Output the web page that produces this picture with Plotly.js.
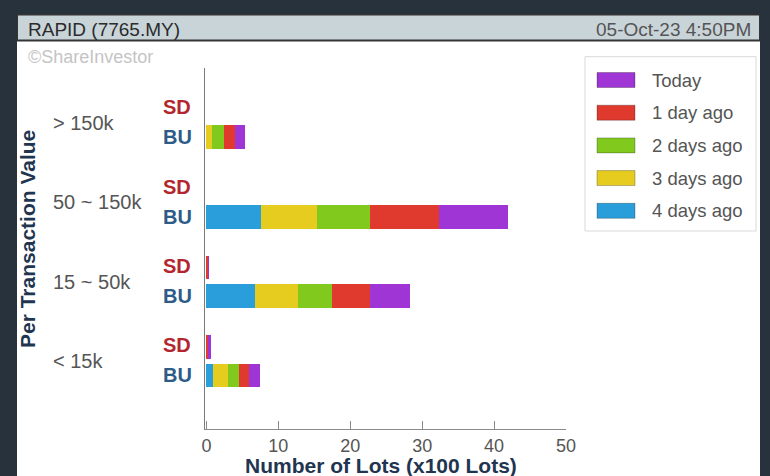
<!DOCTYPE html>
<html>
<head>
<meta charset="utf-8">
<script src="https://cdn.plot.ly/plotly-3.0.1.min.js"></script>
<style>
  html, body { margin: 0; padding: 0; background: #28323d; width: 770px; height: 476px; overflow: hidden; }
  #chart { position: absolute; left: 17px; top: 14px; width: 743px; height: 462px; }
</style>
</head>
<body>
<div id="chart"></div>
<script>
// ---- data ----
const categories = ['> 150k', '50 ~ 150k', '15 ~ 50k', '< 15k'];   // top to bottom
const sides = ['SD', 'BU'];
const seriesNames = ['4 days ago', '3 days ago', '2 days ago', '1 day ago', 'Today']; // stacking order
const seriesColors = ['#2a9edb', '#e5cc1f', '#82c91e', '#e03a2f', '#a035d6'];

// BU values (x100 lots) per category
const buDay4  = [0.0, 7.65, 6.7, 0.93];
const buDay3  = [0.8, 7.75, 6.05, 2.03];
const buDay2  = [1.7, 7.3, 4.65, 1.53];
const buDay1  = [1.5, 9.6, 5.4, 1.39];
const buToday = [1.3, 9.7, 5.5, 1.53];

// SD values (x100 lots) per category
const sdDay4  = [0, 0, 0, 0];
const sdDay3  = [0, 0, 0, 0];
const sdDay2  = [0, 0, 0, 0];
const sdDay1  = [0, 0, 0.15, 0.25];
const sdToday = [0, 0, 0.15, 0.35];

const xTicks = [0, 10, 20, 30, 40, 50];
const headerLeft = 'RAPID (7765.MY)';
const headerRight = '05-Oct-23 4:50PM';
const watermark = '\u00A9ShareInvestor';
const xTitle = 'Number of Lots (x100 Lots)';
const yTitle = 'Per Transaction Value';

// ---- layout geometry ----
const W = 743, H = 462, L = 188, R = 194, T = 54, B = 47;
const PW = W - L - R, PH = H - T - B;
const px2x = px => (px - L) / PW;
const py2y = py => (H - B - py) / PH;

const SD_OFFSET = 0.36;
const groupPos = i => categories.length - 1 - i;
const sdPos = categories.map((c, i) => groupPos(i) + SD_OFFSET);
const buPos = categories.map((c, i) => groupPos(i));

const buSeries = [buDay4, buDay3, buDay2, buDay1, buToday];
const sdSeries = [sdDay4, sdDay3, sdDay2, sdDay1, sdToday];

const traces = seriesNames.map((name, s) => ({
  type: 'bar',
  orientation: 'h',
  name: name,
  x: sdSeries[s].concat(buSeries[s]),
  y: sdPos.concat(buPos),
  width: 0.3,
  marker: { color: seriesColors[s], line: { width: 0 } },
  hoverinfo: 'skip'
}));

const FONT = 'Liberation Sans, Arial, sans-serif';
const annotations = [];
const shapes = [];

// header bar
shapes.push({ type: 'rect', xref: 'paper', yref: 'paper',
  x0: px2x(0), x1: px2x(W), y0: py2y(0.5), y1: py2y(26.5),
  fillcolor: '#c9d4d9', line: { color: '#353535', width: 2 } });
annotations.push({ xref: 'paper', yref: 'paper', x: px2x(9), y: py2y(15.5),
  xanchor: 'left', yanchor: 'middle', showarrow: false, text: headerLeft,
  font: { family: FONT, size: 19, color: '#2b2b2b' } });
annotations.push({ xref: 'paper', yref: 'paper', x: px2x(736), y: py2y(15.5),
  xanchor: 'right', yanchor: 'middle', showarrow: false, text: headerRight,
  font: { family: FONT, size: 19, color: '#555555' } });
annotations.push({ xref: 'paper', yref: 'paper', x: px2x(9), y: py2y(43),
  xanchor: 'left', yanchor: 'middle', showarrow: false, text: watermark,
  font: { family: FONT, size: 18, color: '#c4c4c4' } });

// axis titles
annotations.push({ xref: 'paper', yref: 'paper', x: px2x(364), y: py2y(452),
  xanchor: 'center', yanchor: 'middle', showarrow: false, text: '<b>' + xTitle + '</b>',
  font: { family: FONT, size: 21, color: '#1f3550' } });
annotations.push({ xref: 'paper', yref: 'paper', x: px2x(10), y: py2y(225),
  xanchor: 'center', yanchor: 'middle', showarrow: false, textangle: -90,
  text: '<b>' + yTitle + '</b>',
  font: { family: FONT, size: 21, color: '#1f3550' } });

// category and side labels
categories.forEach((c, i) => {
  annotations.push({ xref: 'paper', yref: 'y', x: px2x(34), y: groupPos(i) + SD_OFFSET / 2,
    xanchor: 'left', yanchor: 'middle', showarrow: false, text: c,
    font: { family: FONT, size: 20, color: '#555555' } });
  annotations.push({ xref: 'paper', yref: 'y', x: px2x(144), y: sdPos[i] + 0.02,
    xanchor: 'left', yanchor: 'middle', showarrow: false, text: '<b>' + sides[0] + '</b>',
    font: { family: FONT, size: 20, color: '#b3262f' } });
  annotations.push({ xref: 'paper', yref: 'y', x: px2x(144), y: buPos[i],
    xanchor: 'left', yanchor: 'middle', showarrow: false, text: '<b>' + sides[1] + '</b>',
    font: { family: FONT, size: 20, color: '#2d5c88' } });
});

// legend (drawn from the series arrays)
shapes.push({ type: 'rect', xref: 'paper', yref: 'paper',
  x0: px2x(568), x1: px2x(739), y0: py2y(42.7), y1: py2y(217),
  fillcolor: '#ffffff', line: { color: '#d9d9d9', width: 1 } });
const legendOrder = seriesNames.map((n, i) => i).reverse();
legendOrder.forEach((s, k) => {
  const cy = 66 + k * 32.7;
  shapes.push({ type: 'rect', xref: 'paper', yref: 'paper',
    x0: px2x(580), x1: px2x(618), y0: py2y(cy - 7.5), y1: py2y(cy + 7.5),
    fillcolor: seriesColors[s], line: { color: 'rgba(0,0,0,0.25)', width: 1 } });
  annotations.push({ xref: 'paper', yref: 'paper', x: px2x(633), y: py2y(cy),
    xanchor: 'left', yanchor: 'middle', showarrow: false, text: seriesNames[s],
    font: { family: FONT, size: 18.5, color: '#555555' } });
});

const layout = {
  width: W, height: H,
  margin: { l: L, r: R, t: T, b: B, pad: 0 },
  paper_bgcolor: '#ffffff',
  plot_bgcolor: '#ffffff',
  barmode: 'stack',
  showlegend: false,
  xaxis: {
    range: [-0.2, 50],
    tickvals: xTicks,
    ticktext: xTicks.map(String),
    ticks: 'inside', ticklen: 8, tickcolor: '#8a8a8a', tickwidth: 1,
    showline: true, linecolor: '#8a8a8a', linewidth: 1,
    showgrid: false, zeroline: false,
    tickfont: { family: FONT, size: 18, color: '#555555' },
    fixedrange: true
  },
  yaxis: {
    range: [-0.674, 3.873],
    showline: true, linecolor: '#7a7a7a', linewidth: 1,
    showgrid: false, zeroline: false,
    showticklabels: false, ticks: '',
    fixedrange: true
  },
  shapes: shapes,
  annotations: annotations
};

Plotly.newPlot('chart', traces, layout, { displayModeBar: false, staticPlot: true });
</script>
</body>
</html>
